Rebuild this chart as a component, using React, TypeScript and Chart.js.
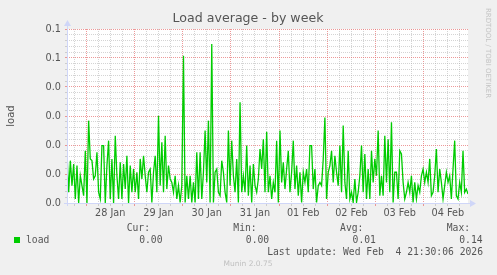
import React, { useEffect, useRef } from "react";
import { Chart, registerables } from "chart.js";

Chart.register(...registerables);

// time axis in hours relative to 28 Jan 00:00
const START_H = -9.5;
const END_H = 190;
const xTickLabels = ["28 Jan", "29 Jan", "30 Jan", "31 Jan", "01 Feb", "02 Feb", "03 Feb", "04 Feb"];
const yTickLabels = ["0.0", "0.0", "0.0", "0.0", "0.0", "0.1", "0.1"];
const Y_MAX = 0.06;

// load average samples, in thousandths, evenly spaced over the week
const loadMilli = [
  17.5, 3.7, 14.6, 6, 13.4, 1.4, 12.9, 0, 9.4, 6, 2.5, 18, 0, 28.4, 15.2, 14.6, 8.3, 9.4, 17.5, 3.7,
  1.4, 19.8, 19.8, 0, 12.9, 21.5, 1.4, 15.2, 0, 23.2, 9.4, 1.4, 14, 1.4, 13.4, 4.8, 16.3, 0, 12.9, 3.7,
  11.7, 3.7, 10.6, 1.4, 15.2, 8.3, 16.3, 9.4, 3.7, 10.6, 11.7, 0.2, 10.6, 16.3, 3.7, 30.1, 6, 20.9, 3.7, 23.2,
  4.8, 12.9, 8.3, 7.1, 3.7, 9.4, 1.4, 6, 0.2, 6, 50.8, 0.2, 9.4, 1.4, 9.4, 0.2, 7.1, 0.2, 17.5, 1.4, 17.5,
  1.4, 10.6, 25, 7.1, 28.4, 0.2, 54.8, 0.2, 10.6, 11.7, 3.7, 2.5, 14.6, 10.6, 3.7, 0.2, 25, 6, 21.5, 9.4,
  3.7, 15.2, 0.2, 34.7, 3.7, 9.4, 3.7, 19.8, 2.5, 12.9, 0.2, 13.4, 6, 3.7, 8.3, 18.6, 11.7, 22, 3.7, 24.6,
  3.7, 9.4, 1.4, 7.1, 3.7, 21.5, 0.2, 25, 7.1, 14, 4.8, 11.7, 18, 3.7, 10.6, 21.5, 4.8, 12.9, 2.5, 10.6,
  0.2, 10.6, 7.1, 11.7, 3.7, 19.8, 19.8, 4.8, 11.7, 0.2, 6, 7.1, 6, 15.2, 29.5, 1.4, 10.6, 12.9, 18, 7.1,
  16.3, 10.6, 6, 19.8, 3.7, 26.7, 7.1, 1.4, 18, 1.4, 3.7, 0.2, 8.3, 0.2, 3.7, 9.4, 19.8, 3.7, 16.9, 1.4,
  11.7, 1.4, 18, 7.1, 15.2, 9.4, 25, 2.5, 9.4, 2.5, 23.2, 7.1, 22, 3.7, 27.8, 0.2, 10.6, 10.6, 1.4, 18,
  16.9, 7.1, 1.4, 3.7, 7.1, 3.7, 9.4, 0.2, 7.1, 1.4, 6, 3.7, 9.4, 11.7, 7.1, 10.6, 7.1, 15.2, 2.5, 3.7,
  9.4, 18.6, 3.7, 11.7, 7.1, 1.4, 6, 10.6, 7.1, 9.4, 1.4, 11.7, 21.5, 2.5, 1.4, 7.1, 3.7, 18, 3.7, 4.8, 3.1,
];

const seriesName = "load";
const legendHeaders = ["Cur:", "Min:", "Avg:", "Max:"];
const legendStats = ["0.00", "0.00", "0.01", "0.14"];
const titleText = "Load average - by week";
const yTitle = "load";
const lastUpdate = "Last update: Wed Feb  4 21:30:06 2026";
const footer = "Munin 2.0.75";
const credit = "RRDTOOL / TOBI OETIKER";

const MAJOR = "rgba(230,110,110,0.7)";
const MINOR = "rgba(170,170,170,0.5)";
const AXIS = "#cfd6f8";
const FONT_COLOR = "#555555";
const LINE_COLOR = "#00cc00";

const decorPlugin = {
  id: "muninDecor",
  beforeDraw(chart: any) {
    const { ctx, chartArea: a, width, height } = chart;
    ctx.save();
    ctx.fillStyle = "#f0f0f0";
    ctx.fillRect(0, 0, width, height);
    ctx.fillStyle = "#ffffff";
    ctx.fillRect(a.left, a.top, a.right - a.left, a.bottom - a.top);
    ctx.restore();
  },
  afterDraw(chart: any) {
    const { ctx, chartArea: a } = chart;
    ctx.save();
    // axes
    ctx.strokeStyle = AXIS;
    ctx.fillStyle = AXIS;
    ctx.lineWidth = 1;
    const ax = Math.round(a.left) + 0.5;
    const ay = Math.round(a.bottom) + 0.5;
    ctx.beginPath();
    ctx.moveTo(ax, a.bottom + 3);
    ctx.lineTo(ax, a.top - 4);
    ctx.moveTo(a.left - 3, ay);
    ctx.lineTo(a.right + 3, ay);
    ctx.stroke();
    ctx.beginPath();
    ctx.moveTo(ax - 3.5, a.top - 3);
    ctx.lineTo(ax + 3.5, a.top - 3);
    ctx.lineTo(ax, a.top - 9);
    ctx.closePath();
    ctx.fill();
    ctx.beginPath();
    ctx.moveTo(a.right + 2, ay - 3.5);
    ctx.lineTo(a.right + 2, ay + 3.5);
    ctx.lineTo(a.right + 8, ay);
    ctx.closePath();
    ctx.fill();

    // title
    ctx.fillStyle = FONT_COLOR;
    ctx.textBaseline = "middle";
    ctx.textAlign = "center";
    ctx.font = '12.6px "DejaVu Sans"';
    ctx.fillText(titleText, 248, 19);

    // y title
    ctx.save();
    ctx.translate(11, (a.top + a.bottom) / 2);
    ctx.rotate(-Math.PI / 2);
    ctx.font = '10px "DejaVu Sans"';
    ctx.fillText(yTitle, 0, 0);
    ctx.restore();

    // credit
    ctx.save();
    ctx.translate(488, 53);
    ctx.rotate(Math.PI / 2);
    ctx.fillStyle = "#c4c4c4";
    ctx.font = '7px "DejaVu Sans"';
    ctx.fillText(credit, 0, 0);
    ctx.restore();

    // legend
    ctx.font = '9.7px "DejaVu Sans Mono"';
    ctx.textAlign = "right";
    legendHeaders.forEach((h, i) => {
      ctx.fillText(h, 150 + i * 106.7, 228.5);
      ctx.fillText(legendStats[i], 162.5 + i * 106.7, 240);
    });
    ctx.textAlign = "left";
    ctx.fillText(seriesName, 26, 240);
    ctx.fillStyle = LINE_COLOR;
    ctx.fillRect(14, 237, 6, 6);
    ctx.fillStyle = FONT_COLOR;
    ctx.textAlign = "right";
    ctx.fillText(lastUpdate, 483, 252);

    ctx.textAlign = "center";
    ctx.fillStyle = "#c0c0c0";
    ctx.font = '7.5px "DejaVu Sans"';
    ctx.fillText(footer, 248, 264);
    ctx.restore();
  },
};

export default function App() {
  const ref = useRef<HTMLCanvasElement | null>(null);

  useEffect(() => {
    if (!ref.current) return;
    const n = loadMilli.length;
    const step = (END_H - START_H) / (n - 1);
    const points = loadMilli.map((v, i) => ({ x: START_H + i * step, y: v / 1000 }));
    const tickFont = { family: "DejaVu Sans", size: 9.7 };

    const chart = new Chart(ref.current, {
      type: "line",
      data: {
        datasets: [
          {
            label: seriesName,
            data: points,
            borderColor: LINE_COLOR,
            borderWidth: 1.3,
            pointRadius: 0,
            tension: 0,
            fill: false,
          },
        ],
      },
      plugins: [decorPlugin],
      options: {
        animation: false,
        responsive: false,
        devicePixelRatio: 1,
        layout: { padding: { left: 0, top: 29, right: 29, bottom: 52 } },
        plugins: { legend: { display: false }, tooltip: { enabled: false }, title: { display: false } },
        scales: {
          x: {
            type: "linear",
            min: START_H,
            max: END_H,
            afterBuildTicks: (axis: any) => {
              const t: any[] = [];
              for (let h = -6; h <= END_H; h += 6) t.push({ value: h });
              axis.ticks = t;
            },
            afterFit: (scale: any) => {
              scale.height = 20;
            },
            ticks: {
              autoSkip: false,
              maxRotation: 0,
              minRotation: 0,
              padding: 2,
              color: FONT_COLOR,
              font: tickFont,
              callback: (v: any) => {
                const h = Number(v);
                const m = ((h % 24) + 24) % 24;
                if (m === 12) return xTickLabels[(h - 12) / 24] ?? "";
                return "";
              },
            },
            grid: {
              color: (c: any) => {
                const h = c.tick ? c.tick.value : 0;
                return ((h % 24) + 24) % 24 === 0 ? MAJOR : MINOR;
              },
              lineWidth: 1,
              drawTicks: true,
              tickLength: 3,
            },
            border: { display: false, dash: [1, 1] },
          },
          y: {
            type: "linear",
            min: 0,
            max: Y_MAX,
            afterBuildTicks: (axis: any) => {
              const t: any[] = [];
              for (let i = 0; i <= 30; i++) t.push({ value: (i * Y_MAX) / 30 });
              axis.ticks = t;
            },
            afterFit: (scale: any) => {
              scale.width = 67;
            },
            ticks: {
              autoSkip: false,
              padding: 4,
              color: FONT_COLOR,
              font: tickFont,
              callback: (_v: any, i: number) => (i % 5 === 0 ? yTickLabels[i / 5] : ""),
            },
            grid: {
              color: (c: any) => (c.index % 5 === 0 ? MAJOR : MINOR),
              lineWidth: 1,
              drawTicks: true,
              tickLength: 2,
            },
            border: { display: false, dash: [1, 1] },
          },
        },
      },
    });
    return () => chart.destroy();
  }, []);

  return (
    <div style={{ position: "fixed", left: 0, top: 0, width: 497, height: 275, background: "#f0f0f0" }}>
      <canvas ref={ref} width={497} height={275} style={{ display: "block", width: 497, height: 275 }} />
    </div>
  );
}
